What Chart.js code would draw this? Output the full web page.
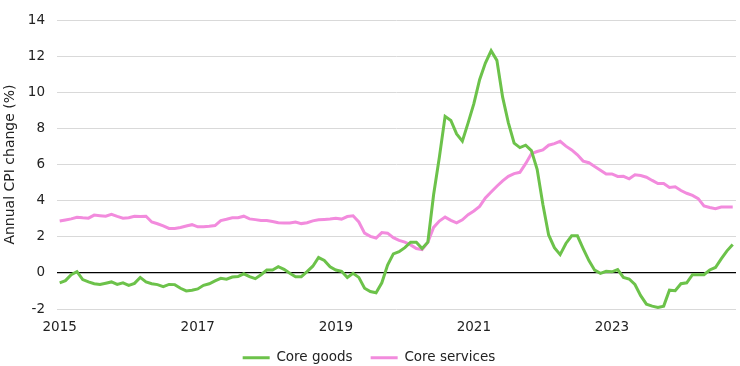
<!DOCTYPE html>
<html>
<head>
<meta charset="utf-8">
<script src="https://cdn.jsdelivr.net/npm/chart.js@4.4.1/dist/chart.umd.min.js"></script>
<style>
  html, body { margin: 0; padding: 0; background: #fff; }
  #wrap { width: 740px; height: 366px; }
</style>
</head>
<body>
<div id="wrap"><canvas id="chart" width="740" height="366"></canvas></div>
<script>
// monthly series, Jan 2015 onwards
var firstYear = 2015;
var yearLabels = ['2015', '2017', '2019', '2021', '2023'];

var coreGoods = [
	-0.55, -0.43, -0.1, 0.07, -0.37, -0.5, -0.6, -0.64, -0.57, -0.5, -0.64, -0.55,
	-0.69, -0.58, -0.25, -0.5, -0.6, -0.65, -0.76, -0.64, -0.65, -0.85, -1.0, -0.96,
	-0.89, -0.69, -0.6, -0.44, -0.3, -0.35, -0.23, -0.2, -0.05, -0.21, -0.32, -0.1,
	0.16, 0.16, 0.34, 0.2, -0.02, -0.21, -0.21, 0.07, 0.37, 0.85, 0.69, 0.34,
	0.16, 0.09, -0.25, -0.02, -0.25, -0.85, -1.03, -1.1, -0.55, 0.43, 1.05, 1.17,
	1.4, 1.7, 1.7, 1.35, 1.7, 4.33, 6.4, 8.67, 8.44, 7.7, 7.3, 8.31,
	9.37, 10.7, 11.62, 12.3, 11.77, 9.73, 8.31, 7.19, 6.94, 7.07, 6.77, 5.74,
	3.79, 2.1, 1.4, 1.01, 1.63, 2.05, 2.05, 1.35, 0.68, 0.15, -0.03, 0.09,
	0.06, 0.18, -0.25, -0.34, -0.64, -1.26, -1.73, -1.84, -1.91, -1.84, -0.96, -0.99,
	-0.6, -0.55, -0.1, -0.1, -0.1, 0.16, 0.3, 0.78, 1.22, 1.57
];

var coreServices = [
	2.87, 2.93, 2.99, 3.08, 3.05, 3.03, 3.2, 3.17, 3.14, 3.24, 3.13, 3.03,
	3.05, 3.14, 3.12, 3.14, 2.82, 2.72, 2.6, 2.46, 2.46, 2.51, 2.6, 2.67,
	2.55, 2.55, 2.58, 2.62, 2.9, 2.97, 3.05, 3.05, 3.14, 2.99, 2.95, 2.9,
	2.9, 2.85, 2.78, 2.76, 2.76, 2.82, 2.73, 2.78, 2.88, 2.94, 2.96, 2.98,
	3.03, 2.98, 3.12, 3.16, 2.82, 2.2, 2.02, 1.93, 2.23, 2.2, 1.95, 1.8,
	1.7, 1.55, 1.35, 1.29, 1.7, 2.52, 2.87, 3.09, 2.91, 2.77, 2.94, 3.22,
	3.43, 3.68, 4.15, 4.48, 4.8, 5.1, 5.35, 5.5, 5.57, 6.05, 6.6, 6.72,
	6.81, 7.07, 7.16, 7.29, 7.02, 6.81, 6.54, 6.19, 6.1, 5.89, 5.69, 5.48,
	5.48, 5.34, 5.35, 5.21, 5.43, 5.39, 5.3, 5.12, 4.95, 4.95, 4.73, 4.77,
	4.56, 4.41, 4.29, 4.11, 3.71, 3.62, 3.56, 3.65, 3.65, 3.65
];

var goodsColor = '#6CC24A';
var servicesColor = '#F28BDD';
var textColor = '#222222';
var fontFamily = '"DejaVu Sans", sans-serif';

// turn a monthly series into {x: month index, y: value}
const toPoints = (series) => series.map((v, i) => ({ x: i, y: v }));

new Chart(document.getElementById('chart'), {
	type: 'line',
	data: {
		datasets: [
			{
				label: 'Core goods',
				data: toPoints(coreGoods),
				borderColor: goodsColor,
				backgroundColor: goodsColor,
				borderWidth: 3,
				pointRadius: 0,
				tension: 0
			},
			{
				label: 'Core services',
				data: toPoints(coreServices),
				borderColor: servicesColor,
				backgroundColor: servicesColor,
				borderWidth: 3,
				pointRadius: 0,
				tension: 0
			}
		]
	},
	options: {
		responsive: false,
		animation: false,
		layout: { padding: { top: 8, right: 4, left: 2, bottom: 0 } },
		plugins: {
			tooltip: { enabled: false },
			legend: {
				position: 'bottom',
				maxHeight: 33,
				labels: {
					color: textColor,
					font: { family: fontFamily, size: 13.5 },
					boxWidth: 27,
					boxHeight: 3,
					padding: 18,
					generateLabels: function (chart) {
						return chart.data.datasets.map((ds, i) => ({
							text: ds.label,
							fillStyle: ds.borderColor,
							strokeStyle: ds.borderColor,
							lineWidth: 0,
							fontColor: textColor,
							datasetIndex: i
						}));
					}
				}
			}
		},
		scales: {
			x: {
				type: 'linear',
				min: -0.47,
				max: 117.57,
				afterFit: function (scale) { scale.height = 24; },
				grid: { display: false, drawTicks: false },
				border: { display: false },
				afterBuildTicks: function (scale) {
					scale.ticks = yearLabels.map((y, k) => ({ value: k * 24 }));
				},
				ticks: {
					color: textColor,
					font: { family: fontFamily, size: 13.5 },
					maxRotation: 0,
					autoSkip: false,
					padding: 10,
					callback: function (value) {
						return String(firstYear + value / 12);
					}
				}
			},
			y: {
				min: -2,
				max: 14,
				afterFit: function (scale) { scale.width = 55; },
				grid: {
					drawTicks: false,
					color: (ctx) => ctx.tick.value === 0 ? '#000000' : '#D9D9D9',
					lineWidth: (ctx) => ctx.tick.value === 0 ? 1.2 : 1
				},
				border: { display: false },
				ticks: {
					stepSize: 2,
					color: textColor,
					font: { family: fontFamily, size: 13.5 },
					padding: 12
				},
				title: {
					display: true,
					text: 'Annual CPI change (%)',
					color: textColor,
					font: { family: fontFamily, size: 14 },
					padding: { top: 0, bottom: 0 }
				}
			}
		}
	}
});
</script>
</body>
</html>
